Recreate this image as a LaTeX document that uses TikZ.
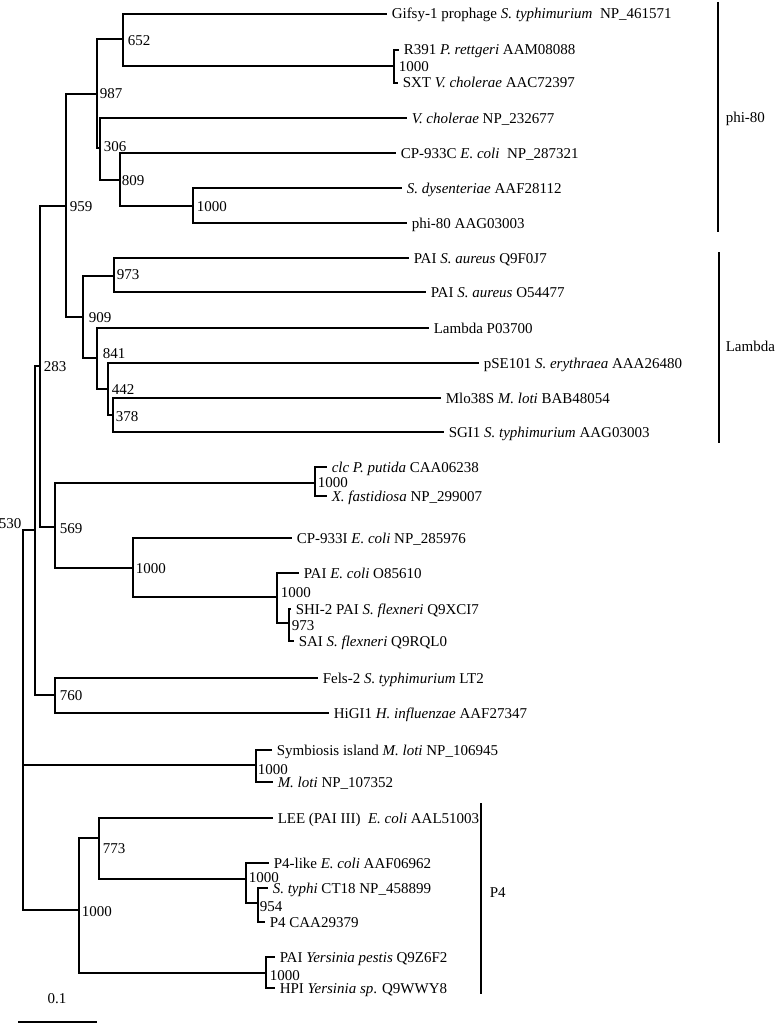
\documentclass[tikz,border=0pt]{standalone}
\usepackage{fontspec}
\setmainfont{Liberation Serif}
\newcommand{\treefont}{\fontsize{15}{18}\selectfont}
\tikzstyle{leaf}=[anchor=west, inner xsep=4pt, inner ysep=0pt, text height=10pt, text depth=0pt, font=\treefont]
\tikzstyle{boot}=[anchor=west, inner sep=0pt, xshift=-1pt, text height=10pt, text depth=0pt, font=\treefont]
\tikzstyle{clade}=[anchor=west, inner sep=0pt, text height=10pt, text depth=0pt, font=\treefont]

\begin{document}
\begin{tikzpicture}[x=1pt, y=-1pt, line width=1.5pt]%
	\useasboundingbox (0,0) rectangle (778,1025);

	% internal nodes of the tree
	\coordinate (Node_Root)   at (23,765);
	\coordinate (Node_530)    at (35,530);
	\coordinate (Node_283)    at (40,366);
	\coordinate (Node_959)    at (66,206);
	\coordinate (Node_987)    at (97,94);
	\coordinate (Node_652)    at (123,39);
	\coordinate (Node_R391)   at (394,66);
	\coordinate (Node_306)    at (100,148);
	\coordinate (Node_809)    at (120,180);
	\coordinate (Node_Dys)    at (193,206);
	\coordinate (Node_909)    at (83,317);
	\coordinate (Node_973a)   at (114,276);
	\coordinate (Node_841)    at (97,358);
	\coordinate (Node_442)    at (108,389);
	\coordinate (Node_378)    at (113,415);
	\coordinate (Node_569)    at (55,527);
	\coordinate (Node_Clc)    at (315,483);
	\coordinate (Node_CP933I) at (133,568);
	\coordinate (Node_PAI)    at (277,597);
	\coordinate (Node_973b)   at (289,623);
	\coordinate (Node_760)    at (55,695);
	\coordinate (Node_Sym)    at (256,765);
	\coordinate (Node_P4)     at (79,910);
	\coordinate (Node_773)    at (99,838);
	\coordinate (Node_P4like) at (246,879);
	\coordinate (Node_954)    at (258,903);
	\coordinate (Node_Yer)    at (266,973);

	% leaves
	\draw (387,14)  node (Leaf_Gifsy)   [leaf] {Gifsy-1 prophage \textit{S. typhimurium}\ \ NP\_461571};
	\draw (399,50)  node (Leaf_R391)    [leaf] {R391 \textit{P. rettgeri} AAM08088};
	\draw (398,83)  node (Leaf_SXT)     [leaf] {SXT \textit{V. cholerae} AAC72397};
	\draw (407,118) node (Leaf_VcholNP) [leaf] {\textit{V. cholerae} NP\_232677};
	\draw (396,153) node (Leaf_CP933C)  [leaf] {CP-933C \textit{E. coli}\ \ NP\_287321};
	\draw (402,188) node (Leaf_Sdys)    [leaf] {\textit{S. dysenteriae} AAF28112};
	\draw (407,223) node (Leaf_Phi80)   [leaf] {phi-80 AAG03003};
	\draw (409,258) node (Leaf_SaurQ)   [leaf] {PAI \textit{S. aureus} Q9F0J7};
	\draw (426,292) node (Leaf_SaurO)   [leaf] {PAI \textit{S. aureus} O54477};
	\draw (429,328) node (Leaf_Lambda)  [leaf] {Lambda P03700};
	\draw (479,363) node (Leaf_pSE101)  [leaf] {pSE101 \textit{S. erythraea} AAA26480};
	\draw (441,398) node (Leaf_Mlo38S)  [leaf] {Mlo38S \textit{M. loti} BAB48054};
	\draw (444,432) node (Leaf_SGI1)    [leaf] {SGI1 \textit{S. typhimurium} AAG03003};
	\draw (327,467) node (Leaf_clc)     [leaf] {\textit{clc P. putida} CAA06238};
	\draw (327,496) node (Leaf_Xfas)    [leaf] {\textit{X. fastidiosa} NP\_299007};
	\draw (292,538) node (Leaf_CP933I)  [leaf] {CP-933I \textit{E. coli} NP\_285976};
	\draw (299,573) node (Leaf_PAIEcoli)[leaf] {PAI \textit{E. coli} O85610};
	\draw (291,609) node (Leaf_SHI2)    [leaf] {SHI-2 PAI \textit{S. flexneri} Q9XCI7};
	\draw (294,641) node (Leaf_SAI)     [leaf] {SAI \textit{S. flexneri} Q9RQL0};
	\draw (318,678) node (Leaf_Fels2)   [leaf] {Fels-2 \textit{S. typhimurium} LT2};
	\draw (329,713) node (Leaf_HiGI1)   [leaf] {HiGI1 \textit{H. influenzae} AAF27347};
	\draw (272,750) node (Leaf_Symb)    [leaf] {Symbiosis island \textit{M. loti} NP\_106945};
	\draw (273,782) node (Leaf_Mloti)   [leaf] {\textit{M. loti} NP\_107352};
	\draw (273,818) node (Leaf_LEE)     [leaf] {LEE (PAI III)\ \ \textit{E. coli} AAL51003};
	\draw (269,863) node (Leaf_P4like)  [leaf] {P4-like \textit{E. coli} AAF06962};
	\draw (268,888) node (Leaf_Styphi)  [leaf] {\textit{S. typhi} CT18 NP\_458899};
	\draw (265,922) node (Leaf_P4CAA)   [leaf] {P4 CAA29379};
	\draw (275,957) node (Leaf_PAIYer)  [leaf] {PAI \textit{Yersinia pestis} Q9Z6F2};
	\draw (275,988) node (Leaf_HPI)     [leaf] {HPI \textit{Yersinia sp}. Q9WWY8};

	% branches
	\foreach \p/\c in {Node_Root/Node_530, Node_Root/Node_Sym, Node_Root/Node_P4,
		Node_530/Node_283, Node_530/Node_760,
		Node_283/Node_959, Node_283/Node_569,
		Node_959/Node_987, Node_959/Node_909,
		Node_987/Node_652, Node_987/Node_306,
		Node_652/Leaf_Gifsy, Node_652/Node_R391,
		Node_R391/Leaf_R391, Node_R391/Leaf_SXT,
		Node_306/Leaf_VcholNP, Node_306/Node_809,
		Node_809/Leaf_CP933C, Node_809/Node_Dys,
		Node_Dys/Leaf_Sdys, Node_Dys/Leaf_Phi80,
		Node_909/Node_973a, Node_909/Node_841,
		Node_973a/Leaf_SaurQ, Node_973a/Leaf_SaurO,
		Node_841/Leaf_Lambda, Node_841/Node_442,
		Node_442/Leaf_pSE101, Node_442/Node_378,
		Node_378/Leaf_Mlo38S, Node_378/Leaf_SGI1,
		Node_569/Node_Clc, Node_569/Node_CP933I,
		Node_Clc/Leaf_clc, Node_Clc/Leaf_Xfas,
		Node_CP933I/Leaf_CP933I, Node_CP933I/Node_PAI,
		Node_PAI/Leaf_PAIEcoli, Node_PAI/Node_973b,
		Node_973b/Leaf_SHI2, Node_973b/Leaf_SAI,
		Node_760/Leaf_Fels2, Node_760/Leaf_HiGI1,
		Node_Sym/Leaf_Symb, Node_Sym/Leaf_Mloti,
		Node_P4/Node_773, Node_P4/Node_Yer,
		Node_773/Leaf_LEE, Node_773/Node_P4like,
		Node_P4like/Leaf_P4like, Node_P4like/Node_954,
		Node_954/Leaf_Styphi, Node_954/Leaf_P4CAA,
		Node_Yer/Leaf_PAIYer, Node_Yer/Leaf_HPI}
		\draw (\p) |- (\c);

	% bootstrap values
	\draw (128,41)  node (Boot_652)  [boot] {652};
	\draw (100,93)  node (Boot_987)  [boot] {987};
	\draw (399,66)  node (Boot_R391) [boot] {1000};
	\draw (104,146) node (Boot_306)  [boot] {306};
	\draw (122,180) node (Boot_809)  [boot] {809};
	\draw (197,206) node (Boot_Dys)  [boot] {1000};
	\draw (70,206)  node (Boot_959)  [boot] {959};
	\draw (117,274) node (Boot_973a) [boot] {973};
	\draw (89,317)  node (Boot_909)  [boot] {909};
	\draw (103,353) node (Boot_841)  [boot] {841};
	\draw (112,389) node (Boot_442)  [boot] {442};
	\draw (116,416) node (Boot_378)  [boot] {378};
	\draw (44,366)  node (Boot_283)  [boot] {283};
	\draw (60,528)  node (Boot_569)  [boot] {569};
	\draw (318,482) node (Boot_Clc)  [boot] {1000};
	\draw (136,568) node (Boot_CP933I) [boot] {1000};
	\draw (281,592) node (Boot_PAI)  [boot] {1000};
	\draw (292,625) node (Boot_973b) [boot] {973};
	\draw (60,695)  node (Boot_760)  [boot] {760};
	\draw (23,523)  node (Boot_530)  [boot, anchor=east] {530};
	\draw (258,769) node (Boot_Sym)  [boot] {1000};
	\draw (82,911)  node (Boot_P4)   [boot] {1000};
	\draw (103,848) node (Boot_773)  [boot] {773};
	\draw (249,877) node (Boot_P4like) [boot] {1000};
	\draw (260,906) node (Boot_954)  [boot] {954};
	\draw (270,975) node (Boot_Yer)  [boot] {1000};

	% clade bars
	\coordinate (Bar_Phi_T)    at (718,2);
	\coordinate (Bar_Phi_B)    at (718,232);
	\coordinate (Bar_Lambda_T) at (719,252);
	\coordinate (Bar_Lambda_B) at (719,443);
	\coordinate (Bar_P4_T)     at (481,803);
	\coordinate (Bar_P4_B)     at (481,994);
	\draw (Bar_Phi_T) -- (Bar_Phi_B);
	\draw (Bar_Lambda_T) -- (Bar_Lambda_B);
	\draw (Bar_P4_T) -- (Bar_P4_B);
	\draw (725,117) node (Clade_Phi)    [clade] {phi-80};
	\draw (725,346) node (Clade_Lambda) [clade] {Lambda};
	\draw (489,892) node (Clade_P4)     [clade] {P4};

	% scale
	\coordinate (Scale_L) at (18,1022);
	\coordinate (Scale_R) at (97,1022);
	\draw (Scale_L) -- (Scale_R);
	\draw (57,998) node (Scale_Text) [clade, anchor=center] {0.1};
\end{tikzpicture}
\end{document}
